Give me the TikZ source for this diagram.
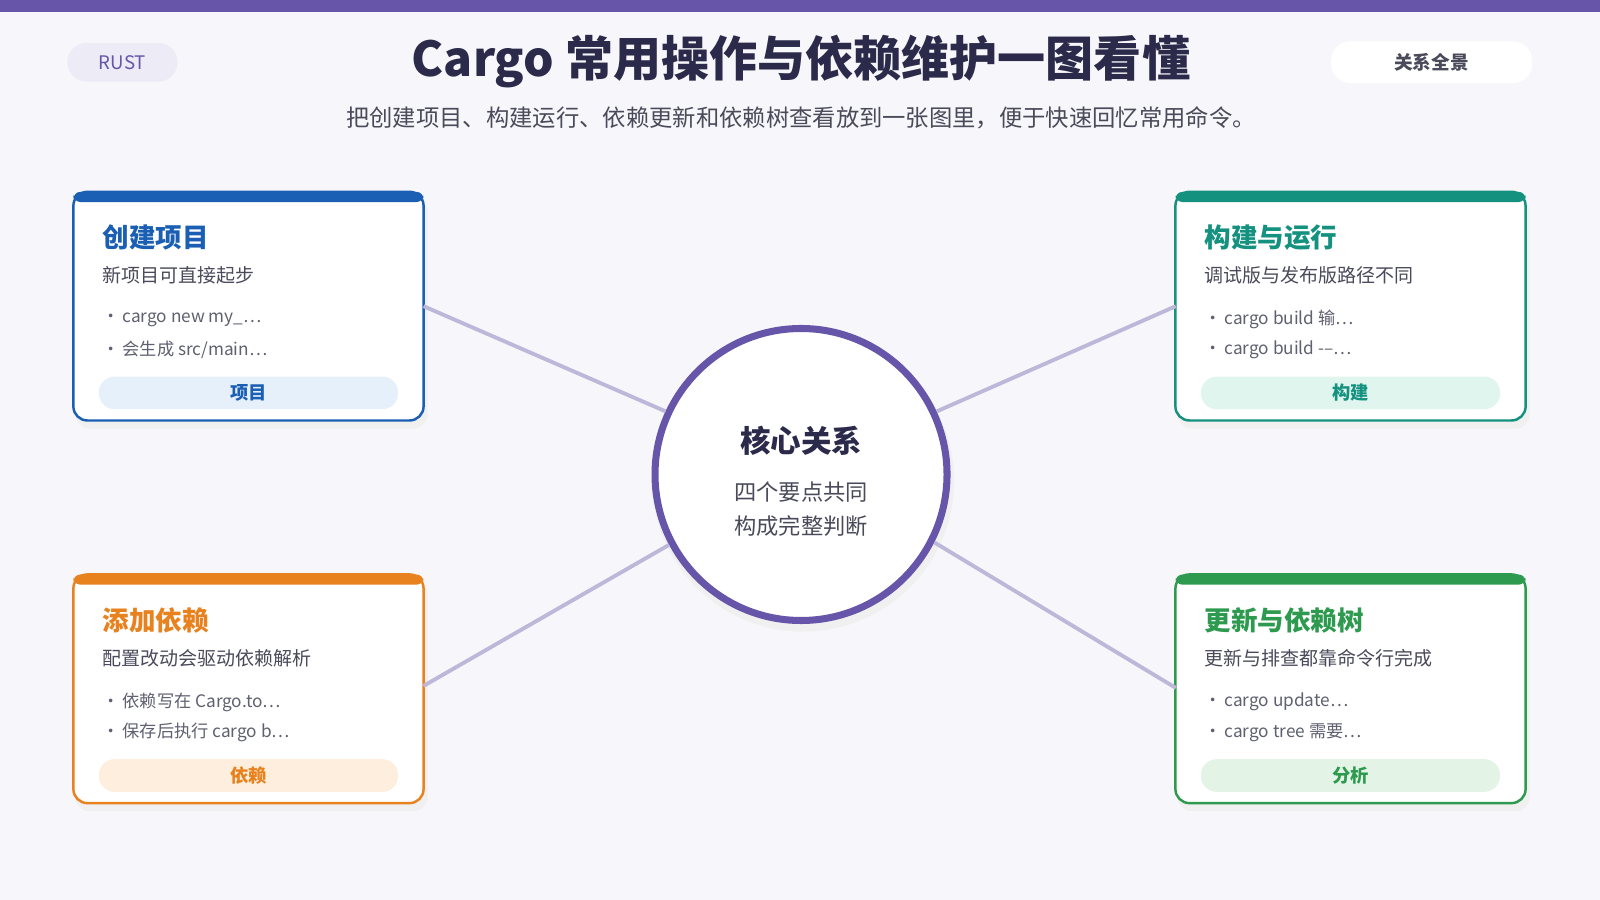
\documentclass[tikz,border=0pt]{standalone}
\usepackage{fontspec}
\setmainfont{Noto Sans CJK SC}
\usetikzlibrary{positioning}
\definecolor{bg}{HTML}{F7F7FB}
\definecolor{pur}{HTML}{6655A8}
\definecolor{ink}{HTML}{2B2A4A}
\definecolor{gr}{HTML}{4A4A5A}
\definecolor{lgr}{HTML}{5F6070}
\definecolor{conn}{HTML}{BDB8DA}
\definecolor{cb}{HTML}{1A5FB4}\definecolor{cbl}{HTML}{E6F0FA}
\definecolor{ct}{HTML}{14917F}\definecolor{ctl}{HTML}{E1F5EF}
\definecolor{co}{HTML}{E8821E}\definecolor{col}{HTML}{FDEEDD}
\definecolor{cg}{HTML}{2E9A4F}\definecolor{cgl}{HTML}{E3F4E7}
\tikzset{
 card/.style={draw=#1,line width=0.7pt,fill=white,rounded corners=4pt,minimum width=3.43cm,minimum height=2.24cm},
 ctitle/.style={anchor=west,font=\fontsize{7.4}{8}\selectfont\bfseries,text=#1},
 csub/.style={anchor=west,font=\fontsize{5.3}{6}\selectfont,text=gr},
 cbul/.style={anchor=west,font=\fontsize{4.8}{6}\selectfont,text=lgr},
 pill/.style={fill=#1,rounded corners=4.5pt,minimum width=2.93cm,minimum height=0.32cm,inner sep=0pt},
 plab/.style={font=\fontsize{5.1}{6}\selectfont\bfseries,text=#1},
 link/.style={draw=conn,line width=1.1pt},
}
\begin{document}
\begin{tikzpicture}[x=0.01cm,y=-0.01cm,scale=1.0204,every node/.append style={transform shape}]
\fill[bg] (0,0) rectangle (1568,882);
\useasboundingbox (0,0) rectangle (1568,882);
\fill[pur] (0,0) rectangle (1568,12);
\node[fill=pur!12,rounded corners=5.5pt,minimum width=1.08cm,minimum height=0.38cm,font=\fontsize{5.2}{6}\selectfont,text=pur] (rust) at (120,61) {RUST};
\node[fill=white,rounded corners=5.5pt,minimum width=1.97cm,minimum height=0.38cm,font=\fontsize{5.2}{6}\selectfont\bfseries,text=gr] (all) at (1403,61) {关系全景};
\node[font=\fontsize{13.4}{15}\selectfont\bfseries,text=ink] (title) at (785,60) {Cargo 常用操作与依赖维护一图看懂};
\node[font=\fontsize{6.5}{7}\selectfont,text=gr] (sub) at (785,115) {把创建项目、构建运行、依赖更新和依赖树查看放到一张图里，便于快速回忆常用命令。};

\newcommand{\mycard}[9]{%
 \fill[black!6,rounded corners=4pt] (#1+2,#2+6) rectangle (#1+347,#2+232);
 \node[card=#3] (#4) at (#1+171.5,#2+112) {};
 \fill[#3,rounded corners=2pt] (#1,#2) rectangle (#1+343,#2+10);
 \node[ctitle=#3] (#4t) at (#1+16,#2+45) {#5};
 \node[csub] (#4s) at (#1+16,#2+82) {#6};
 \node[cbul] (#4a) at (#1+16,#2+125) {\textbullet\,#7};
 \node[cbul] (#4b) at (#1+16,#2+155) {\textbullet\,#8};
 \node[pill=#3l] (#4p) at (#1+171.5,#2+197) {};
 \node[plab=#3] at (#4p) {#9};
}
\mycard{72}{188}{cb}{c1}{创建项目}{新项目可直接起步}{cargo new my\_…}{会生成 src/main…}{项目}
\mycard{1152}{188}{ct}{c2}{构建与运行}{调试版与发布版路径不同}{cargo build 输…}{cargo build -–…}{构建}
\mycard{72}{563}{co}{c3}{添加依赖}{配置改动会驱动依赖解析}{依赖写在 Cargo.to…}{保存后执行 cargo b…}{依赖}
\mycard{1152}{563}{cg}{c4}{更新与依赖树}{更新与排查都靠命令行完成}{cargo update…}{cargo tree 需要…}{分析}

\fill[black!6] (787,471) circle (148);
\node[circle,draw=pur,line width=2pt,fill=white,minimum size=2.86cm] (hub) at (785,465) {};
\node[font=\fontsize{8.5}{10}\selectfont\bfseries,text=ink] (ht) at (785,432) {核心关系};
\node[font=\fontsize{6.2}{9.6}\selectfont,text=gr,align=center] (hs) at (785,499) {四个要点共同\\构成完整判断};

\coordinate (a1) at (415,300);
\coordinate (a2) at (1152,300);
\coordinate (a3) at (415,672);
\coordinate (a4) at (1152,674);
\draw[link] (a1) -- (hub.155);
\draw[link] (a2) -- (hub.25);
\draw[link] (a3) -- (hub.208);
\draw[link] (a4) -- (hub.333);
\end{tikzpicture}
\end{document}
